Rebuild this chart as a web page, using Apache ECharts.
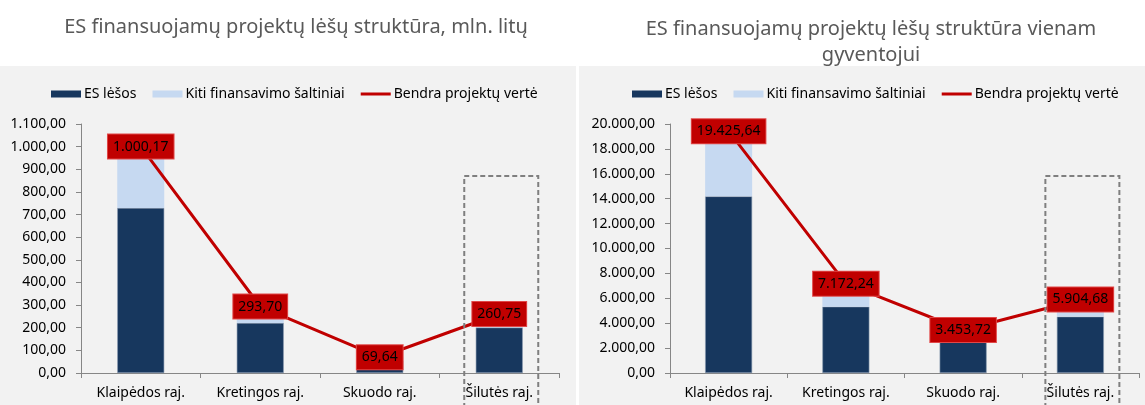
<!DOCTYPE html>
<html>
<head>
<meta charset="utf-8">
<script src="https://cdn.jsdelivr.net/npm/echarts@6/dist/echarts.min.js"></script>
<style>
  html, body { margin: 0; padding: 0; background: #fff; }
  #chart { width: 1145px; height: 405px; }
</style>
</head>
<body>
<div id="chart"></div>
<script>
const categories = ['Klaipėdos raj.', 'Kretingos raj.', 'Skuodo raj.', 'Šilutės raj.']

// mln. litų
const esLeft = [729, 221, 55, 201]
const kitiLeft = [271.17, 72.7, 14.64, 59.75]
const totalLeft = [1000.17, 293.70, 69.64, 260.75]

// vienam gyventojui
const esRight = [14190, 5330, 2700, 4530]
const kitiRight = [5235.64, 1842.24, 753.72, 1374.68]
const totalRight = [19425.64, 7172.24, 3453.72, 5904.68]

const titles = [
  'ES finansuojamų projektų lėšų struktūra, mln. litų',
  'ES finansuojamų projektų lėšų struktūra vienam\ngyventojui'
]
const seriesNames = ['ES lėšos', 'Kiti finansavimo šaltiniai', 'Bendra projektų vertė']

const FONT = "'Noto Sans', sans-serif"

// 1234.5 -> 1.234,50
function ltNum(v) {
  const parts = Number(v).toFixed(2).split('.')
  parts[0] = parts[0].replace(/\B(?=(\d{3})+(?!\d))/g, '.')
  return parts.join(',')
}

const chart = echarts.init(document.getElementById('chart'))

function axisPair(idx, max, interval) {
  return {
    x: {
      type: 'category',
      gridIndex: idx,
      data: categories,
      axisLine: { lineStyle: { color: '#868686', width: 1 } },
      axisTick: { show: true, length: 5, lineStyle: { color: '#868686' } },
      axisLabel: { color: '#000', fontSize: 14, fontFamily: FONT, margin: 13, interval: 0 }
    },
    y: {
      type: 'value',
      gridIndex: idx,
      min: 0,
      max: max,
      interval: interval,
      axisLine: { show: true, lineStyle: { color: '#868686', width: 1 } },
      axisTick: { show: true, length: 5, lineStyle: { color: '#868686' } },
      splitLine: { show: false },
      axisLabel: {
        color: '#000', fontSize: 14, fontFamily: FONT, margin: 15,
        formatter: (v) => ltNum(v)
      }
    }
  }
}

const ax0 = axisPair(0, 1100, 100)
const ax1 = axisPair(1, 20000, 2000)

function seriesFor(idx, es, kiti, total) {
  const barBase = {
    type: 'bar',
    stack: 'total' + idx,
    xAxisIndex: idx,
    yAxisIndex: idx,
    barWidth: 47
  }
  return [
    Object.assign({}, barBase, {
      name: seriesNames[0],
      data: es,
      itemStyle: { color: '#17375E', borderColor: '#8A9BB0', borderWidth: 0.6 }
    }),
    Object.assign({}, barBase, {
      name: seriesNames[1],
      data: kiti,
      itemStyle: { color: '#C6D9F1' }
    }),
    {
      name: seriesNames[2],
      type: 'line',
      xAxisIndex: idx,
      yAxisIndex: idx,
      data: total,
      symbol: 'circle',
      symbolSize: 1,
      z: 5,
      lineStyle: { color: '#C00000', width: 3 },
      itemStyle: { color: '#C00000' },
      label: {
        show: true,
        position: 'inside',
        formatter: (p) => ltNum(p.value),
        color: '#000',
        fontSize: 14,
        fontFamily: FONT,
        backgroundColor: '#C00000',
        borderColor: '#E04848',
        borderWidth: 1,
        padding: [6, 5, 4, 5]
      }
    }
  ]
}

function legendFor(idx, left) {
  return {
    left: left,
    top: 82,
    itemWidth: 30,
    itemHeight: 7,
    itemGap: 16,
    itemStyle: { borderWidth: 0 },
    data: seriesNames.map((n, i) => ({
      name: n,
      icon: i === 2 ? 'path://M0,0 H30 V3 H0 Z' : 'rect'
    })),
    textStyle: { color: '#000', fontSize: 14, fontFamily: FONT, padding: [0, 0, 0, -2] },
    selectedMode: false
  }
}

const option = {
  backgroundColor: '#fff',
  animation: false,
  title: [
    {
      text: titles[0], left: 291, top: 12, textAlign: 'center',
      textStyle: { color: '#595959', fontSize: 20, fontWeight: 'normal', fontFamily: FONT }
    },
    {
      text: titles[1], left: 866, top: 11, textAlign: 'center',
      textStyle: { color: '#595959', fontSize: 20, fontWeight: 'normal', fontFamily: FONT, lineHeight: 26 }
    }
  ],
  legend: [legendFor(0, 46), legendFor(1, 627)],
  grid: [
    { left: 81, top: 124, width: 478, height: 249 },
    { left: 670, top: 124, width: 469, height: 249 }
  ],
  xAxis: [ax0.x, ax1.x],
  yAxis: [ax0.y, ax1.y],
  series: [].concat(
    seriesFor(0, esLeft, kitiLeft, totalLeft),
    seriesFor(1, esRight, kitiRight, totalRight)
  ),
  graphic: [
    { type: 'rect', z: -100, silent: true, shape: { x: 0, y: 66, width: 576, height: 339 }, style: { fill: '#F2F2F2' } },
    { type: 'rect', z: -100, silent: true, shape: { x: 579, y: 66, width: 566, height: 339 }, style: { fill: '#F2F2F2' } }
  ]
}

chart.setOption(option)

// dashed highlight box around Šilutės raj.
const lastCat = categories.length - 1
const boxTops = [870, 15820]
const boxes = [0, 1].map((i) => {
  const top = chart.convertToPixel({ xAxisIndex: i, yAxisIndex: i }, [lastCat, boxTops[i]])
  return {
    type: 'rect',
    z: 10,
    silent: true,
    shape: { x: top[0] - 35, y: top[1], width: 74, height: 405 - top[1] + 5 },
    style: { fill: 'none', stroke: '#7F7F7F', lineWidth: 2, lineDash: [5, 3] }
  }
})
chart.setOption({ graphic: option.graphic.concat(boxes) })
</script>
</body>
</html>
